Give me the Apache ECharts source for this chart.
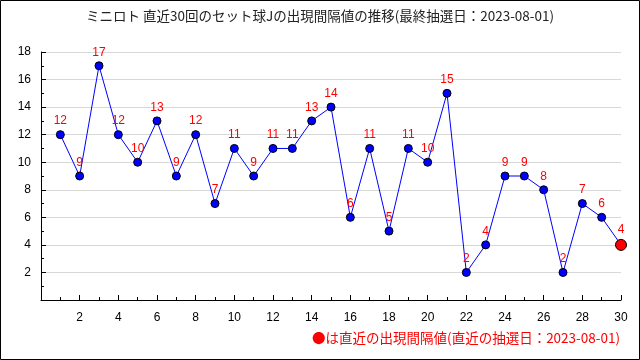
<!DOCTYPE html>
<html><head><meta charset="utf-8">
<script src="https://cdn.jsdelivr.net/npm/echarts@6/dist/echarts.min.js"></script>
<style>html,body{margin:0;padding:0;background:#fff}#c{width:640px;height:360px}</style>
</head><body><div id="c"></div>
<script>
const draws = [1,2,3,4,5,6,7,8,9,10,11,12,13,14,15,16,17,18,19,20,21,22,23,24,25,26,27,28,29,30];
const intervals = [12,9,17,12,10,13,9,12,7,11,9,11,11,13,14,6,11,5,11,10,15,2,4,9,9,8,2,7,6,4];
const titleText = 'ミニロト 直近30回のセット球Jの出現間隔値の推移(最終抽選日：2023-08-01)';
const noteText = '●は直近の出現間隔値(直近の抽選日：2023-08-01)';

const chart = echarts.init(document.getElementById('c'), null, {renderer:'canvas'});
const last = draws.length - 1;
const data = draws.map((d,i)=>{
  const p = {value:[d, intervals[i]]};
  if (i === last) { p.symbolSize = 11; p.itemStyle = {color:'#ff0000', borderColor:'#000', borderWidth:1}; }
  return p;
});
const axisLabelFont = {color:'#000', fontSize:12, fontFamily:'Liberation Sans'};
chart.setOption({
  animation:false,
  backgroundColor:'#fff',
  title:{text:titleText, left:'center', top:4, textStyle:{fontSize:13.5, fontWeight:'normal', color:'#222', fontFamily:'Noto Sans CJK JP'}},
  grid:{left:41, right:19, top:52, bottom:60},
  xAxis:{type:'value', min:0, max:30, interval:2,
    axisLine:{show:true, lineStyle:{color:'#000', width:1}},
    axisTick:{show:true, inside:true, length:5, lineStyle:{color:'#000'}},
    minorTick:{show:true, splitNumber:2, length:3, lineStyle:{color:'#000'}},
    splitLine:{show:false},
    axisLabel:{...axisLabelFont, margin:12, formatter:v=> v===0 ? '' : String(v)}},
  yAxis:{type:'value', min:0, max:18, interval:2,
    axisLine:{show:true, lineStyle:{color:'#000', width:1}},
    axisTick:{show:true, inside:true, length:5, lineStyle:{color:'#000'}},
    minorTick:{show:true, splitNumber:2, length:3, lineStyle:{color:'#000'}},
    splitLine:{show:true, lineStyle:{color:'#d8d8d8', width:1}},
    axisLabel:{...axisLabelFont, margin:10, formatter:v=> v===0 ? '' : String(v)}},
  series:[{type:'line', data:data, symbol:'circle', symbolSize:8,
    lineStyle:{color:'#0000ff', width:1},
    itemStyle:{color:'#0000ff', borderColor:'#000', borderWidth:1},
    label:{show:true, position:'top', distance:3, color:'#ff0000', fontSize:12, fontFamily:'Liberation Sans',
      formatter:p=>String(p.value[1])}}],
  graphic:[
    {type:'rect', shape:{x:0.5, y:0.5, width:639, height:359}, style:{fill:'none', stroke:'#000', lineWidth:1}, silent:true},
    {type:'text', right:20, top:331, style:{text:noteText, fill:'#ff0000', fontSize:13.5, fontFamily:'Noto Sans CJK JP'}}
  ]
});
</script></body></html>
